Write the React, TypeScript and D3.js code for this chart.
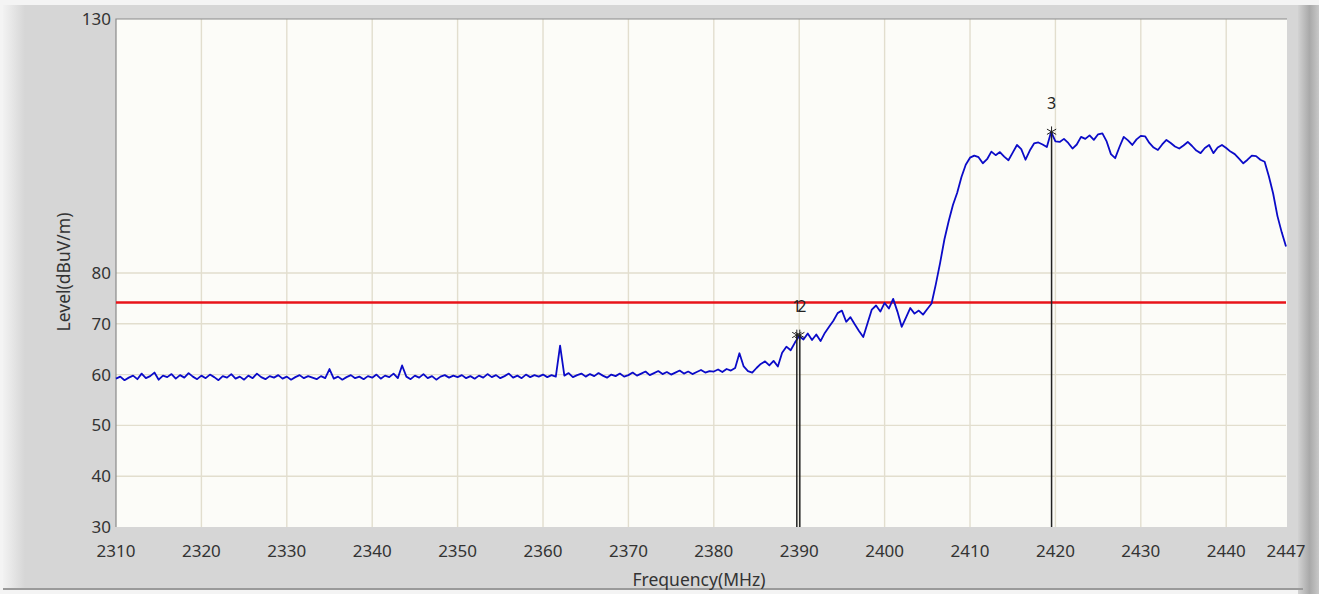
import React, { useEffect, useRef } from "react";
import * as d3 from "d3";

// trace sampled every 0.5 MHz from 2310 MHz
const FREQ_START = 2310;
const FREQ_STEP = 0.5;
const levels: number[] = [
  // 2310
  59.2, 59.6, 58.9, 59.4, 59.8, 59.1, 60.2, 59.3, 59.7, 60.4, 59.0, 59.8, 59.5, 60.1, 59.2, 59.9, 59.4, 60.3, 59.6, 59.1,
  // 2320
  59.8, 59.3, 60.0, 59.5, 58.9, 59.7, 59.4, 60.1, 59.2, 59.6, 59.0, 59.8, 59.3, 60.2, 59.5, 59.1, 59.7, 59.4, 59.9, 59.2,
  // 2330
  59.6, 59.0, 59.5, 59.9, 59.3, 59.7, 59.4, 59.1, 59.7, 59.3, 61.1, 59.2, 59.6, 59.0, 59.5, 59.9, 59.3, 59.6, 59.1, 59.7,
  // 2340
  59.4, 60.0, 59.2, 59.8, 59.5, 60.2, 59.3, 61.8, 59.6, 59.1, 59.8, 59.4, 60.1, 59.3, 59.7, 59.0, 59.6, 59.9, 59.4, 59.8,
  // 2350
  59.5, 59.9, 59.3, 59.7, 59.2, 59.8, 59.4, 60.1, 59.5, 59.9, 59.3, 59.7, 60.2, 59.4, 59.8, 59.3, 60.0, 59.5, 59.9, 59.6,
  // 2360
  60.0, 59.5, 59.9, 59.6, 65.7, 59.8, 60.3, 59.5, 59.9, 60.2, 59.6, 60.1, 59.7, 60.3, 59.8, 59.4, 60.0, 59.7, 60.2, 59.6,
  // 2370
  59.9, 60.4, 59.8, 60.2, 60.6, 59.9, 60.3, 60.7, 60.1, 60.5, 60.0, 60.4, 60.8, 60.2, 60.6, 60.1, 60.5, 60.9, 60.4, 60.7,
  // 2380
  60.6, 61.0, 60.5, 61.1, 60.8, 61.3, 64.2, 61.6, 60.7, 60.4, 61.3, 62.1, 62.6, 61.8, 62.7, 61.6, 64.3, 65.5, 64.8, 66.3,
  // 2390
  67.6, 66.9, 68.1, 66.8, 67.9, 66.6, 68.2, 69.4, 70.6, 72.1, 72.6, 70.4, 71.3, 69.9, 68.6, 67.4, 70.1, 72.8, 73.6, 72.4,
  // 2400
  74.1, 73.0, 74.9, 72.4, 69.4, 71.2, 73.1, 72.0, 72.6, 71.8, 72.9, 74.0, 77.8, 82.0, 86.6, 90.2, 93.4, 95.8, 98.9, 101.3,
  // 2410
  102.7, 103.1, 102.8, 101.6, 102.4, 103.9, 103.2, 103.8, 102.9, 102.2, 103.7, 105.2, 104.4, 102.3, 104.1, 105.5, 105.7, 105.3, 104.8, 107.8,
  // 2420
  105.9, 105.8, 106.4, 105.6, 104.5, 105.3, 106.8, 106.4, 107.1, 106.2, 107.3, 107.5, 105.9, 103.4, 102.6, 104.8, 106.8, 106.1, 105.2, 106.3,
  // 2430
  107.0, 106.9, 105.6, 104.7, 104.2, 105.3, 106.2, 105.6, 104.9, 104.5, 105.1, 105.8, 105.0, 104.1, 103.6, 104.6, 105.2, 103.6, 104.7, 105.2,
  // 2440
  104.6, 103.9, 103.4, 102.5, 101.6, 102.3, 103.1, 103.0, 102.3, 101.9, 99.0, 95.6, 91.2, 88.0, 85.2,
];

const xTicks = [2310, 2320, 2330, 2340, 2350, 2360, 2370, 2380, 2390, 2400, 2410, 2420, 2430, 2440, 2447];
const yTicks = [30, 40, 50, 60, 70, 80, 130];
const yGrid = [40, 50, 60, 70, 80];
const limitLevel = 74.2;

const markerIds = ["1", "2", "3"];
const markerFreqs = [2389.72, 2390.07, 2419.55];
const markerLevels = [67.8, 67.8, 107.8];

const W = 1319;
const H = 594;

const App: React.FC = () => {
  const svgRef = useRef<SVGSVGElement | null>(null);

  useEffect(() => {
    if (!svgRef.current) return;
    const svg = d3.select(svgRef.current);
    svg.selectAll("*").remove();

    const plot = { left: 116, right: 1286, top: 19, bottom: 527 };
    const font = "'Noto Sans', 'DejaVu Sans', sans-serif";

    // fond de fenêtre
    const defs = svg.append("defs");
    const gr = defs.append("linearGradient").attr("id", "rightEdge").attr("x1", 0).attr("x2", 1);
    gr.append("stop").attr("offset", "0%").attr("stop-color", "#d2d2d2");
    gr.append("stop").attr("offset", "55%").attr("stop-color", "#a9a9a9");
    gr.append("stop").attr("offset", "100%").attr("stop-color", "#c8c8c8");
    const gl = defs.append("linearGradient").attr("id", "leftEdge").attr("x1", 0).attr("x2", 1);
    gl.append("stop").attr("offset", "0%").attr("stop-color", "#f2f2f2");
    gl.append("stop").attr("offset", "100%").attr("stop-color", "#d6d6d6");

    svg.append("rect").attr("width", W).attr("height", H).attr("fill", "#f4f4f4");
    svg.append("rect").attr("x", 3).attr("y", 5).attr("width", 1300).attr("height", 584).attr("fill", "#d6d6d6");
    svg.append("rect").attr("x", 3).attr("y", 5).attr("width", 22).attr("height", 584).attr("fill", "url(#leftEdge)");
    svg.append("rect").attr("x", 1298).attr("y", 5).attr("width", 21).attr("height", 589).attr("fill", "url(#rightEdge)");
    svg.append("rect").attr("x", 3).attr("y", 588).attr("width", 1300).attr("height", 2).attr("fill", "#9a9a9a");

    const x = d3.scaleLinear().domain([2310, 2447]).range([plot.left, plot.right]);
    const y = d3.scaleLinear().domain([30, 130]).range([plot.bottom, plot.top]);

    // zone de tracé
    svg
      .append("rect")
      .attr("x", plot.left)
      .attr("y", plot.top)
      .attr("width", plot.right - plot.left + 1)
      .attr("height", plot.bottom - plot.top)
      .attr("fill", "#fcfcf8");

    // grille
    svg
      .append("g")
      .selectAll("line")
      .data(xTicks.slice(1, -1))
      .enter()
      .append("line")
      .attr("x1", (d) => x(d))
      .attr("x2", (d) => x(d))
      .attr("y1", plot.top)
      .attr("y2", plot.bottom)
      .style("stroke", "#e2dece")
      .style("stroke-width", 1.4);

    svg
      .append("g")
      .selectAll("line")
      .data(yGrid)
      .enter()
      .append("line")
      .attr("x1", plot.left)
      .attr("x2", plot.right)
      .attr("y1", (d) => y(d))
      .attr("y2", (d) => y(d))
      .style("stroke", "#e2dece")
      .style("stroke-width", 1.4);

    // bords gauche et haut
    svg
      .append("path")
      .attr("d", `M${plot.left},${plot.bottom}V${plot.top}H${plot.right + 1}`)
      .attr("fill", "none")
      .style("stroke", "#8a8a8a")
      .style("stroke-width", 1.2);

    // limite
    svg
      .append("line")
      .attr("x1", plot.left)
      .attr("x2", plot.right)
      .attr("y1", y(limitLevel))
      .attr("y2", y(limitLevel))
      .style("stroke", "#e8141a")
      .style("stroke-width", 2.6);

    // trace
    const line = d3
      .line<number>()
      .x((_, i) => x(FREQ_START + i * FREQ_STEP))
      .y((d) => y(d));
    svg
      .append("path")
      .datum(levels)
      .attr("d", line)
      .attr("fill", "none")
      .style("stroke", "#0b0bc8")
      .style("stroke-width", 1.8)
      .style("stroke-linejoin", "round");

    // marqueurs
    const mk = svg.append("g");
    markerIds.forEach((id, i) => {
      const mx = x(markerFreqs[i]);
      const my = y(markerLevels[i]);
      mk.append("line")
        .attr("x1", mx)
        .attr("x2", mx)
        .attr("y1", my)
        .attr("y2", plot.bottom)
        .style("stroke", "#222")
        .style("stroke-width", 1.5);
      mk.append("path")
        .attr("transform", `translate(${mx},${my})`)
        .attr("d", d3.symbol().type(d3.symbolAsterisk).size(80)())
        .attr("fill", "none")
        .style("stroke", "#222")
        .style("stroke-width", 1);
      mk.append("text")
        .attr("x", mx + (id === "2" ? 2 : 0))
        .attr("y", my - 23)
        .attr("text-anchor", "middle")
        .style("font-family", font)
        .style("font-size", "16px")
        .style("fill", "#222")
        .text(id);
    });

    // libellés des axes
    svg
      .append("g")
      .selectAll("text")
      .data(yTicks)
      .enter()
      .append("text")
      .attr("x", plot.left - 5)
      .attr("y", (d) => y(d))
      .attr("dy", "0.35em")
      .attr("text-anchor", "end")
      .style("font-family", font)
      .style("font-size", "17px")
      .style("fill", "#333")
      .text((d) => d);

    svg
      .append("g")
      .selectAll("text")
      .data(xTicks)
      .enter()
      .append("text")
      .attr("x", (d) => x(d))
      .attr("y", 557)
      .attr("text-anchor", "middle")
      .style("font-family", font)
      .style("font-size", "17px")
      .style("fill", "#333")
      .text((d) => d);

    svg
      .append("text")
      .attr("x", 699)
      .attr("y", 586)
      .attr("text-anchor", "middle")
      .style("font-family", font)
      .style("font-size", "17.5px")
      .style("fill", "#333")
      .text("Frequency(MHz)");

    svg
      .append("text")
      .attr("transform", `translate(70,272) rotate(-90)`)
      .attr("text-anchor", "middle")
      .style("font-family", font)
      .style("font-size", "17.5px")
      .style("fill", "#333")
      .text("Level(dBuV/m)");
  }, []);

  return (
    <div style={{ position: "absolute", left: 0, top: 0 }}>
      <svg ref={svgRef} width={W} height={H} style={{ display: "block" }}></svg>
    </div>
  );
};

export default App;
